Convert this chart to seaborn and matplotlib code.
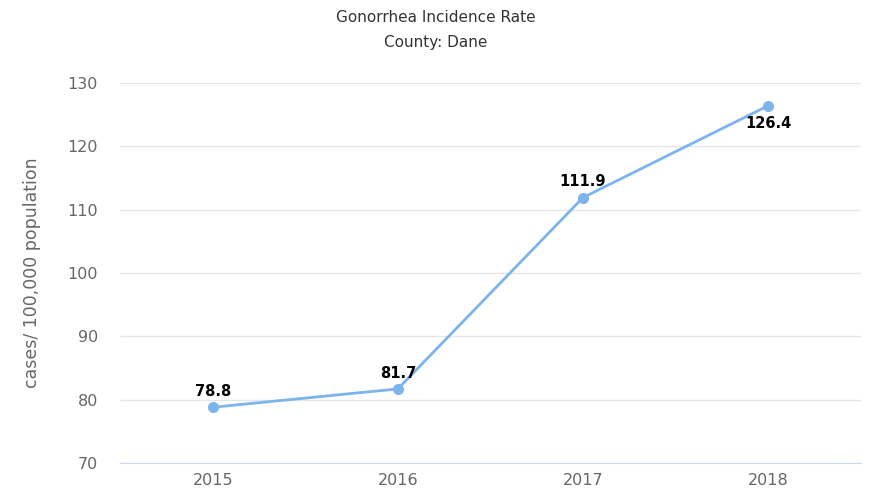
import matplotlib
matplotlib.use("Agg")
import matplotlib.pyplot as plt
import pandas as pd
import seaborn as sns

years = ["2015", "2016", "2017", "2018"]
rates = [78.8, 81.7, 111.9, 126.4]
y_ticks = [70, 80, 90, 100, 110, 120, 130]
title_lines = ["Gonorrhea Incidence Rate", "County: Dane"]
y_label = "cases/ 100,000 population"


def main():
    sns.set_style("white")
    plt.rcParams["font.family"] = ["DejaVu Sans"]

    df = pd.DataFrame({"year": years, "rate": rates})

    fig = plt.figure(figsize=(8.71, 4.91), dpi=100)
    ax = fig.add_axes([0.138, 0.057, 0.850, 0.774])

    sns.lineplot(
        data=df, x="year", y="rate", ax=ax, color="#7cb5ec",
        linewidth=2, marker="o", markersize=8, markeredgewidth=0,
    )

    ax.set_xlim(-0.5, len(years) - 0.5)
    ax.set_ylim(y_ticks[0], y_ticks[-1])
    ax.set_yticks(y_ticks)
    ax.grid(axis="y", color="#e6e6e6", linewidth=1)
    ax.set_axisbelow(True)
    for side in ["top", "right", "left"]:
        ax.spines[side].set_visible(False)
    ax.spines["bottom"].set_color("#ccd6eb")
    ax.tick_params(axis="both", length=0, labelsize=11.5, colors="#666666")
    ax.tick_params(axis="x", pad=7)
    ax.tick_params(axis="y", pad=16)
    ax.set_xlabel("")
    ax.set_ylabel(y_label, fontsize=12.5, color="#666666", labelpad=19)

    # data labels: above the point, below for the top one
    for i, v in enumerate(rates):
        if v > 120:
            ax.annotate(f"{v}", (i, v), xytext=(0, -7), textcoords="offset points",
                        ha="center", va="top", fontsize=10.5, fontweight="bold", color="black")
        else:
            ax.annotate(f"{v}", (i, v), xytext=(0, 6), textcoords="offset points",
                        ha="center", va="bottom", fontsize=10.5, fontweight="bold", color="black")

    fig.text(0.5, 1 - 18 / 491, title_lines[0], ha="center", va="center",
             fontsize=11, color="#333333")
    fig.text(0.5, 1 - 42 / 491, title_lines[1], ha="center", va="center",
             fontsize=11, color="#333333")

    fig.savefig("out.png", dpi=100)
    plt.close(fig)


if __name__ == "__main__":
    main()
